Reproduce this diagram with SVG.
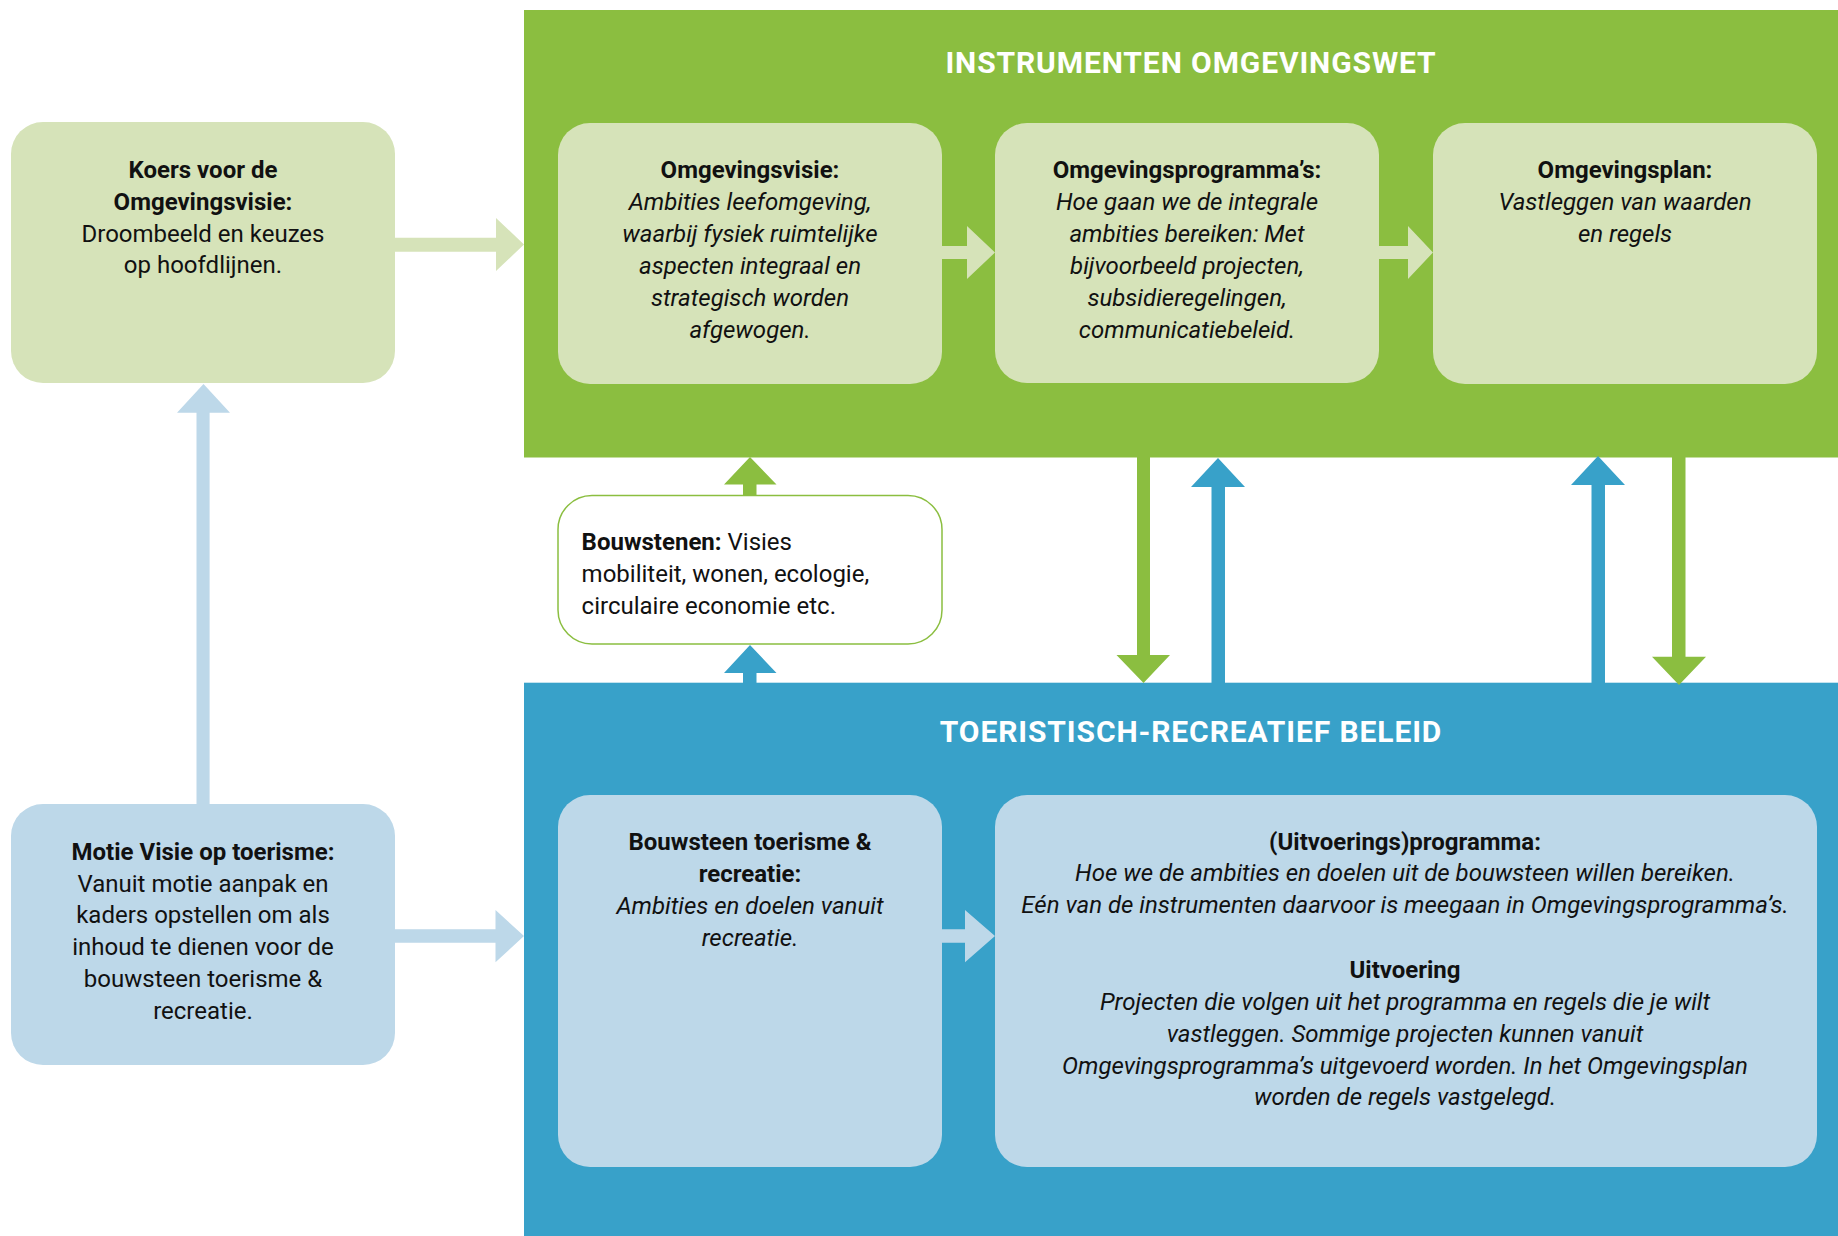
<svg xmlns="http://www.w3.org/2000/svg" width="1838" height="1236" viewBox="0 0 1838 1236">
<style>
  text { font-family: Roboto, "Liberation Sans", sans-serif; font-size: 24px; fill: #111; }
  .c { text-anchor: middle; }
  .b { font-weight: bold; }
  .i { font-style: italic; }
  .title { font-size: 30px; font-weight: bold; fill: #fff; text-anchor: middle; letter-spacing: 0.9px; }
  .lg { fill: #D6E3B9; }
  .lb { fill: #BDD8E9; }
  .g { fill: #8BBE40; }
  .bl { fill: #38A1C9; }
</style>
<rect x="0" y="0" width="1838" height="1236" fill="#fff"/>
<g id="container-instrumenten">
  <rect class="g" x="524" y="10" width="1314" height="447.5"/>
  <text class="title" x="1191" y="72.5">INSTRUMENTEN OMGEVINGSWET</text>
</g>
<g id="container-toeristisch">
  <rect class="bl" x="524" y="682.7" width="1314" height="553.3"/>
  <text class="title" x="1191" y="742">TOERISTISCH-RECREATIEF BELEID</text>
</g>
<g id="connectors">
  <polygon class="lg" points="395,237.7 496,237.7 496,218 524,244.5 496,271 496,251.7 395,251.7"/>
  <polygon class="lg" points="942,246 967,246 967,226 995,252.5 967,279 967,259 942,259"/>
  <polygon class="lg" points="1379,246 1408,246 1408,226 1433,252.5 1408,279 1408,259 1379,259"/>
  <polygon class="g" points="743,495 743,484.5 724,484.5 750,457 776.5,484.5 756.5,484.5 756.5,495"/>
  <polygon class="bl" points="743,683 743,673 724,673 750,645 776.5,673 756.5,673 756.5,683"/>
  <polygon class="g" points="1137,457 1150,457 1150,655 1170,655 1143.5,683 1116.5,655 1137,655"/>
  <polygon class="bl" points="1211.5,683 1211.5,487 1191,487 1218,458 1245,487 1225,487 1225,683"/>
  <polygon class="bl" points="1591.5,683 1591.5,485 1571,485 1598,456 1625,485 1605,485 1605,683"/>
  <polygon class="g" points="1672,457 1685.5,457 1685.5,656.7 1706,656.7 1679,685 1652,656.7 1672,656.7"/>
  <polygon class="lb" points="196.5,804 196.5,412.7 177,412.7 203.5,384 230,412.7 209.6,412.7 209.6,804"/>
  <polygon class="lb" points="395,929.3 495.5,929.3 495.5,910 524,936 495.5,962.3 495.5,942.7 395,942.7"/>
  <polygon class="lb" points="942,929.3 965,929.3 965,910 995,936 965,962.3 965,942.7 942,942.7"/>
</g>
<g id="node-koers">
  <rect class="lg" x="11" y="122" width="384" height="261" rx="32"/>
  <text class="c b" x="203" y="178">Koers voor de</text>
  <text class="c b" x="203" y="210">Omgevingsvisie:</text>
  <text class="c" x="203" y="241.7">Droombeeld en keuzes</text>
  <text class="c" x="203" y="273">op hoofdlijnen.</text>
</g>
<g id="node-omgevingsvisie">
  <rect class="lg" x="558" y="123" width="384" height="261" rx="32"/>
  <text class="c b" x="750" y="178">Omgevingsvisie:</text>
  <text class="c i" x="750" y="210">Ambities leefomgeving,</text>
  <text class="c i" x="750" y="242">waarbij fysiek ruimtelijke</text>
  <text class="c i" x="750" y="273.5">aspecten integraal en</text>
  <text class="c i" x="750" y="305.5">strategisch worden</text>
  <text class="c i" x="750" y="337.5">afgewogen.</text>
</g>
<g id="node-omgevingsprogrammas">
  <rect class="lg" x="995" y="123" width="384" height="260" rx="32"/>
  <text class="c b" x="1187" y="178">Omgevingsprogramma’s:</text>
  <text class="c i" x="1187" y="210">Hoe gaan we de integrale</text>
  <text class="c i" x="1187" y="242">ambities bereiken: Met</text>
  <text class="c i" x="1187" y="273.5">bijvoorbeeld projecten,</text>
  <text class="c i" x="1187" y="305.5">subsidieregelingen,</text>
  <text class="c i" x="1187" y="337.5">communicatiebeleid.</text>
</g>
<g id="node-omgevingsplan">
  <rect class="lg" x="1433" y="123" width="384" height="261" rx="32"/>
  <text class="c b" x="1625" y="178">Omgevingsplan:</text>
  <text class="c i" x="1625" y="210">Vastleggen van waarden</text>
  <text class="c i" x="1625" y="241.7">en regels</text>
</g>
<g id="node-bouwstenen">
  <rect x="558" y="495.5" width="384" height="148.5" rx="34" fill="#fff" stroke="#8BBE40" stroke-width="1.5"/>
  <text x="581.6" y="550"><tspan class="b">Bouwstenen:</tspan> Visies</text>
  <text x="581.6" y="582">mobiliteit, wonen, ecologie,</text>
  <text x="581.6" y="613.5">circulaire economie etc.</text>
</g>
<g id="node-motie">
  <rect class="lb" x="11" y="804" width="384" height="261" rx="32"/>
  <text class="c b" x="203" y="859.5">Motie Visie op toerisme:</text>
  <text class="c" x="203" y="891.5">Vanuit motie aanpak en</text>
  <text class="c" x="203" y="923">kaders opstellen om als</text>
  <text class="c" x="203" y="955">inhoud te dienen voor de</text>
  <text class="c" x="203" y="987">bouwsteen toerisme &amp;</text>
  <text class="c" x="203" y="1019">recreatie.</text>
</g>
<g id="node-bouwsteen-toerisme">
  <rect class="lb" x="558" y="795" width="384" height="372" rx="32"/>
  <text class="c b" x="750" y="850">Bouwsteen toerisme &amp;</text>
  <text class="c b" x="750" y="882">recreatie:</text>
  <text class="c i" x="750" y="914">Ambities en doelen vanuit</text>
  <text class="c i" x="750" y="946">recreatie.</text>
</g>
<g id="node-uitvoeringsprogramma">
  <rect class="lb" x="995" y="795" width="822" height="372" rx="32"/>
  <text class="c b" x="1405" y="849.5">(Uitvoerings)programma:</text>
  <text class="c i" x="1405" y="881">Hoe we de ambities en doelen uit de bouwsteen willen bereiken.</text>
  <text class="c i" x="1405" y="913">Eén van de instrumenten daarvoor is meegaan in Omgevingsprogramma’s.</text>
  <text class="c b" x="1405" y="978">Uitvoering</text>
  <text class="c i" x="1405" y="1010">Projecten die volgen uit het programma en regels die je wilt</text>
  <text class="c i" x="1405" y="1042">vastleggen. Sommige projecten kunnen vanuit</text>
  <text class="c i" x="1405" y="1073.5">Omgevingsprogramma’s uitgevoerd worden. In het Omgevingsplan</text>
  <text class="c i" x="1405" y="1105">worden de regels vastgelegd.</text>
</g>
</svg>
